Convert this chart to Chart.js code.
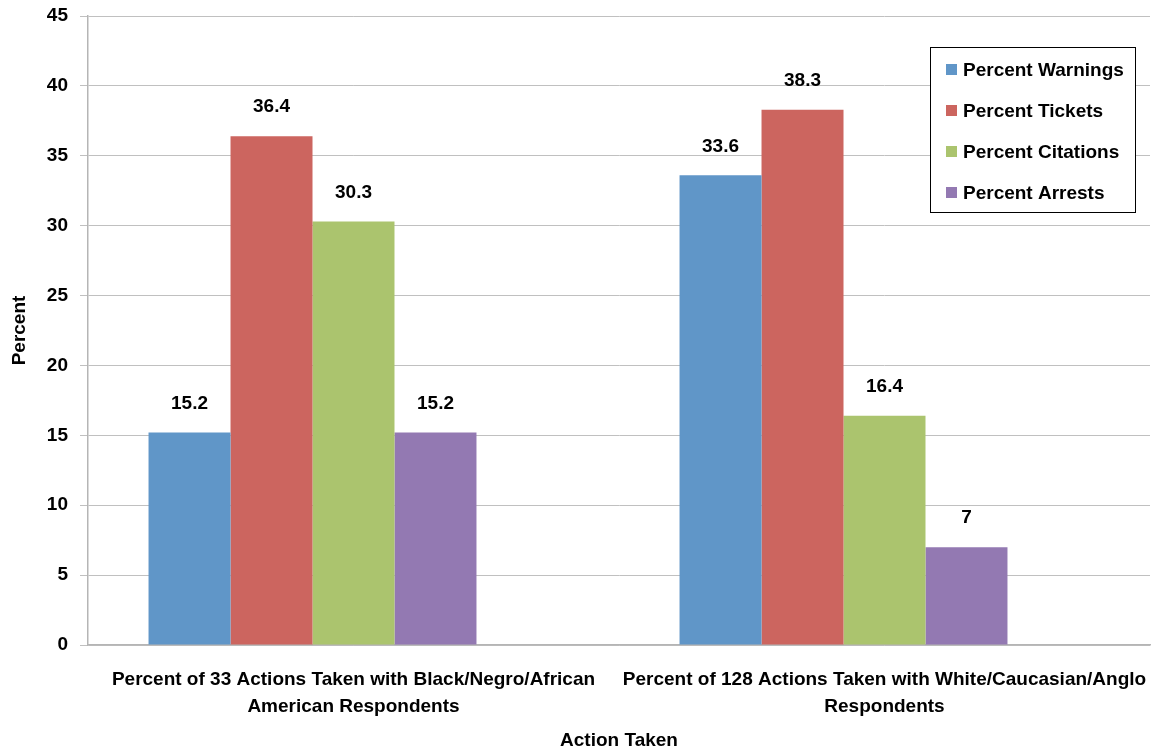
<!DOCTYPE html>
<html>
<head>
<meta charset="utf-8">
<script src="https://cdn.jsdelivr.net/npm/chart.js@4"></script>
<style>
  html, body { margin: 0; padding: 0; background: #fff; }
  #wrap { width: 1154px; height: 750px; }
</style>
</head>
<body>
<div id="wrap"><canvas id="chart" width="1154" height="750"></canvas></div>
<script>
// ========== Data ==========
const categories = [
  ["Percent of 33 Actions Taken with Black/Negro/African", "American Respondents"],
  ["Percent of 128 Actions Taken with White/Caucasian/Anglo", "Respondents"],
];
const seriesNames = ["Percent Warnings", "Percent Tickets", "Percent Citations", "Percent Arrests"];
const warnings = [15.2, 33.6];
const tickets = [36.4, 38.3];
const citations = [30.3, 16.4];
const arrests = [15.2, 7];
const seriesColors = ["#6096c8", "#cc655f", "#abc46e", "#9379b2"];
const yTicks = [0, 5, 10, 15, 20, 25, 30, 35, 40, 45];

const FONT = "'Liberation Sans', Arial, sans-serif";
const FS = 19;

// ========== Plugins ==========
// value labels above each bar
const valueLabels = {
  id: "valueLabels",
  afterDatasetsDraw(chart) {
    const ctx = chart.ctx;
    ctx.save();
    ctx.font = `bold ${FS}px ${FONT}`;
    ctx.fillStyle = "#000";
    ctx.textAlign = "center";
    ctx.textBaseline = "middle";
    chart.data.datasets.forEach((ds, i) => {
      if (ds.spacer) return;
      chart.getDatasetMeta(i).data.forEach((bar, j) => {
        ctx.fillText(String(ds.data[j]), bar.x, bar.y - 29);
      });
    });
    ctx.restore();
  },
};

// boxed legend inside plot area
const boxLegend = {
  id: "boxLegend",
  afterDraw(chart) {
    const ctx = chart.ctx;
    const items = chart.data.datasets.filter((d) => !d.spacer);
    ctx.save();
    ctx.fillStyle = "#fff";
    ctx.fillRect(930, 47, 205, 165);
    ctx.strokeStyle = "#000";
    ctx.lineWidth = 1;
    ctx.strokeRect(930.5, 47.5, 205, 165);
    ctx.font = `bold ${FS}px ${FONT}`;
    ctx.textBaseline = "middle";
    ctx.textAlign = "left";
    items.forEach((d, i) => {
      const y = 71 + i * 41;
      ctx.fillStyle = d.backgroundColor;
      ctx.fillRect(946, y - 7, 11, 11);
      ctx.fillStyle = "#000";
      ctx.fillText(d.label, 963, y);
    });
    ctx.restore();
  },
};

// ========== Chart ==========
const datasets = [warnings, tickets, citations, arrests].map((vals, i) => ({
  label: seriesNames[i],
  data: vals,
  backgroundColor: seriesColors[i],
  borderWidth: 0,
}));
// empty fifth slot keeps the group offset like the original
datasets.push({ label: "", data: [null, null], backgroundColor: "transparent", spacer: true });

new Chart(document.getElementById("chart"), {
  type: "bar",
  data: { labels: categories, datasets },
  plugins: [valueLabels, boxLegend],
  options: {
    responsive: false,
    animation: false,
    layout: { padding: { top: 16, right: 4, bottom: 0, left: 0 } },
    datasets: { bar: { categoryPercentage: 0.772, barPercentage: 1.0 } },
    plugins: { legend: { display: false }, tooltip: { enabled: false } },
    scales: {
      x: {
        grid: { display: false, drawTicks: false },
        border: { color: "#b5b5b5", width: 1.5 },
        ticks: {
          color: "#000",
          padding: 21,
          font: { family: FONT, size: FS, weight: "bold", lineHeight: 1.42 },
          maxRotation: 0,
        },
        title: {
          display: true,
          text: "Action Taken",
          color: "#000",
          padding: { top: 0, bottom: 0 },
          font: { family: FONT, size: FS, weight: "bold", lineHeight: 1.0 },
        },
        afterFit(scale) {
          scale.height = 105;
          scale.paddingLeft = 0;
          scale.paddingRight = 0;
        },
      },
      y: {
        min: 0,
        max: 45,
        afterBuildTicks(scale) { scale.ticks = yTicks.map((v) => ({ value: v })); },
        grid: { color: "#c0c0c0", lineWidth: 1, tickLength: 8 },
        border: { color: "#b5b5b5", width: 1.5 },
        ticks: {
          color: "#000",
          padding: 12,
          font: { family: FONT, size: FS, weight: "bold" },
        },
        title: {
          display: true,
          text: "Percent",
          color: "#000",
          padding: { top: 8, bottom: 0 },
          font: { family: FONT, size: FS, weight: "bold", lineHeight: 1.2 },
        },
        afterFit(scale) {
          scale.width = 88;
          scale.paddingTop = 0;
          scale.paddingBottom = 0;
        },
      },
    },
  },
});
</script>
</body>
</html>
